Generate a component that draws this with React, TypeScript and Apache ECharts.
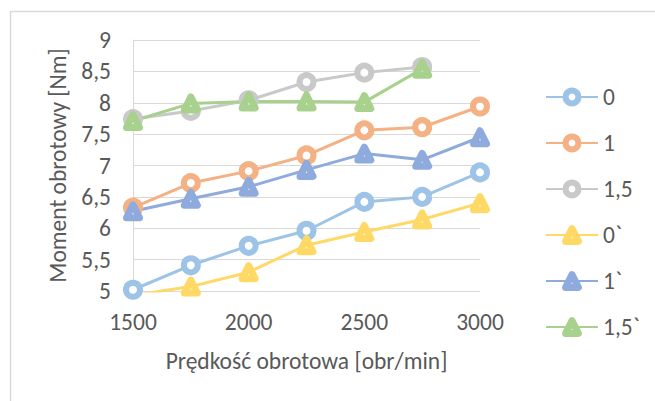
import React, { useEffect, useRef } from "react";
import * as echarts from "echarts";

const speeds = [1500, 1750, 2000, 2250, 2500, 2750, 3000];
const seriesNames = ["0", "1", "1,5", "0`", "1`", "1,5`"];
const s0 = [5.02, 5.41, 5.72, 5.96, 6.42, 6.5, 6.89];
const s1 = [6.33, 6.72, 6.91, 7.16, 7.56, 7.61, 7.94];
const s15 = [7.74, 7.87, 8.04, 8.33, 8.48, 8.57, null];
const s0p = [4.93, 5.07, 5.3, 5.73, 5.94, 6.14, 6.4];
const s1p = [6.27, 6.47, 6.66, 6.93, 7.19, 7.09, 7.45];
const s15p = [7.71, 7.99, 8.02, 8.02, 8.01, 8.54, null];
const colors = ["#9DC3E6", "#F4B183", "#C9C9C9", "#FFD966", "#8FAADC", "#A9D18E"];
const symbols = ["circle", "circle", "circle", "triangle", "triangle", "triangle"];

const FONT = "Calibri, Carlito, 'Open Sans', sans-serif";
const TEXT = "#595959";
const FS = 23.5;

function markerStyle(i: number) {
  const tri = symbols[i] === "triangle";
  return {
    color: "#ffffff",
    borderColor: colors[i],
    borderWidth: tri ? 7 : 6,
    borderJoin: "round",
  };
}

export default function App() {
  const ref = useRef<HTMLDivElement>(null);
  useEffect(() => {
    if (!ref.current) return;
    const chart = echarts.init(ref.current, undefined, { renderer: "svg" });
    const all = [s0, s1, s15, s0p, s1p, s15p];
    const series = all.map((vals, i) => ({
      name: seriesNames[i],
      type: "line",
      data: speeds.map((x, j) => [x, vals[j]]),
      symbol: symbols[i],
      symbolSize: symbols[i] === "triangle" ? 13 : 14,
      showSymbol: true,
      connectNulls: false,
      clip: true,
      lineStyle: { color: colors[i], width: 3 },
      itemStyle: markerStyle(i),
      emphasis: { disabled: true },
    }));
    chart.setOption({
      animation: false,
      textStyle: { fontFamily: FONT },
      graphic: [
        {
          type: "rect",
          shape: { x: 10.5, y: 11.5, width: 700, height: 420 },
          style: { fill: "none", stroke: "#D9D9D9", lineWidth: 1.5 },
          silent: true,
        },
      ],
      grid: { left: 133, right: 175, top: 40, bottom: 110 },
      legend: {
        orient: "vertical",
        left: 545,
        top: 85,
        padding: 0,
        itemWidth: 52,
        itemHeight: 16,
        itemGap: 22,
        data: seriesNames.map((n, i) => ({ name: n, itemStyle: markerStyle(i) })),
        textStyle: { fontSize: FS, color: TEXT, fontFamily: FONT },
      },
      xAxis: {
        type: "value",
        min: 1500,
        max: 3000,
        interval: 500,
        name: "Prędkość obrotowa [obr/min]",
        nameLocation: "middle",
        nameGap: 58,
        nameTextStyle: { fontSize: FS, color: TEXT, fontFamily: FONT },
        axisLine: { show: false },
        axisTick: { show: false },
        splitLine: { show: false },
        axisLabel: {
          fontSize: FS,
          color: TEXT,
          margin: 19,
          fontFamily: FONT,
          formatter: (v: number) => String(v),
        },
      },
      yAxis: {
        type: "value",
        min: 5,
        max: 9,
        interval: 0.5,
        name: "Moment obrotowy [Nm]",
        nameLocation: "middle",
        nameGap: 62,
        nameTextStyle: { fontSize: FS, color: TEXT, fontFamily: FONT },
        axisLine: { show: true, lineStyle: { color: "#D9D9D9", width: 1 } },
        axisTick: { show: false },
        splitLine: { show: true, lineStyle: { color: "#D9D9D9", width: 1 } },
        axisLabel: {
          fontSize: FS,
          color: TEXT,
          margin: 22,
          fontFamily: FONT,
          formatter: (v: number) => String(v).replace(".", ","),
        },
      },
      series,
    });
    return () => chart.dispose();
  }, []);
  return (
    <div
      ref={ref}
      style={{ position: "fixed", left: 0, top: 0, width: 655, height: 401, background: "#fff" }}
    />
  );
}
